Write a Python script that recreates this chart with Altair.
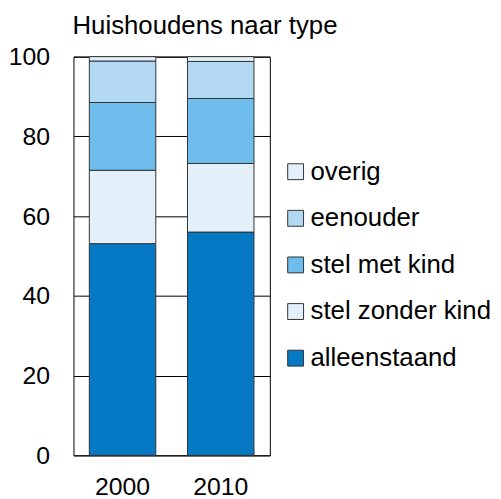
import altair as alt
import pandas as pd

years = ["2000", "2010"]
categories = ["alleenstaand", "stel zonder kind", "stel met kind", "eenouder", "overig"]
values_2000 = [53.1, 18.4, 17.0, 10.4, 1.1]
values_2010 = [56.0, 17.2, 16.3, 9.3, 1.2]
colors = ["#0579C3", "#E3F0FA", "#6EBDED", "#B2D8F3", "#E3F0FA"]
legend_order = ["overig", "eenouder", "stel met kind", "stel zonder kind", "alleenstaand"]
title_text = ["Huishoudens naar type"]

rows = []
for year, vals in zip(years, [values_2000, values_2010]):
    for i, (cat, v) in enumerate(zip(categories, vals)):
        rows.append({"jaar": year, "type": cat, "waarde": v, "volgorde": i})
df = pd.DataFrame(rows)

color_map = dict(zip(categories, colors))
FONT = "Liberation Sans"

bars = alt.Chart(df).mark_bar(stroke="#333333", strokeWidth=1).encode(
    x=alt.X("jaar:N", title=None,
            scale=alt.Scale(paddingInner=0.323, paddingOuter=0.1615),
            axis=alt.Axis(labelAngle=0, ticks=False, tickSize=0, domain=False,
                          labelFontSize=25, labelPadding=19, labelColor="black",
                          labelFont=FONT, grid=False)),
    y=alt.Y("waarde:Q", title=None, stack="zero",
            scale=alt.Scale(domain=[0, 100], nice=False),
            axis=alt.Axis(values=[0, 20, 40, 60, 80, 100], ticks=False, tickSize=0,
                          domain=False, grid=True, gridColor="black", gridOpacity=1,
                          gridWidth=1, labelFontSize=25, labelPadding=24,
                          labelColor="black", labelFont=FONT)),
    color=alt.Color("type:N", title=None,
                    scale=alt.Scale(domain=legend_order,
                                    range=[color_map[c] for c in legend_order]),
                    legend=alt.Legend(orient="none", legendX=211, legendY=103,
                                      symbolType="square", symbolSize=256,
                                      symbolStrokeColor="#333333", symbolStrokeWidth=1,
                                      symbolOpacity=1,
                                      labelFontSize=26, labelFont=FONT, labelColor="black",
                                      labelOffset=2, rowPadding=21, padding=0,
                                      labelLimit=300)),
    order=alt.Order("volgorde:Q", sort="ascending"),
)

title = alt.Chart(pd.DataFrame({"t": title_text})).mark_text(
    align="left", baseline="alphabetic", fontSize=26, font=FONT, color="black"
).encode(
    x=alt.value(-1), y=alt.value(-23), text="t:N"
)

chart = alt.layer(bars, title).properties(
    width=198,
    height=402,
    autosize=alt.AutoSizeParams(type="none"),
    padding={"left": 66, "top": 47, "right": 225, "bottom": 46},
).configure_view(
    stroke="black", strokeWidth=1
)

chart.save("out.html", embed_options={"renderer": "svg", "actions": False})
